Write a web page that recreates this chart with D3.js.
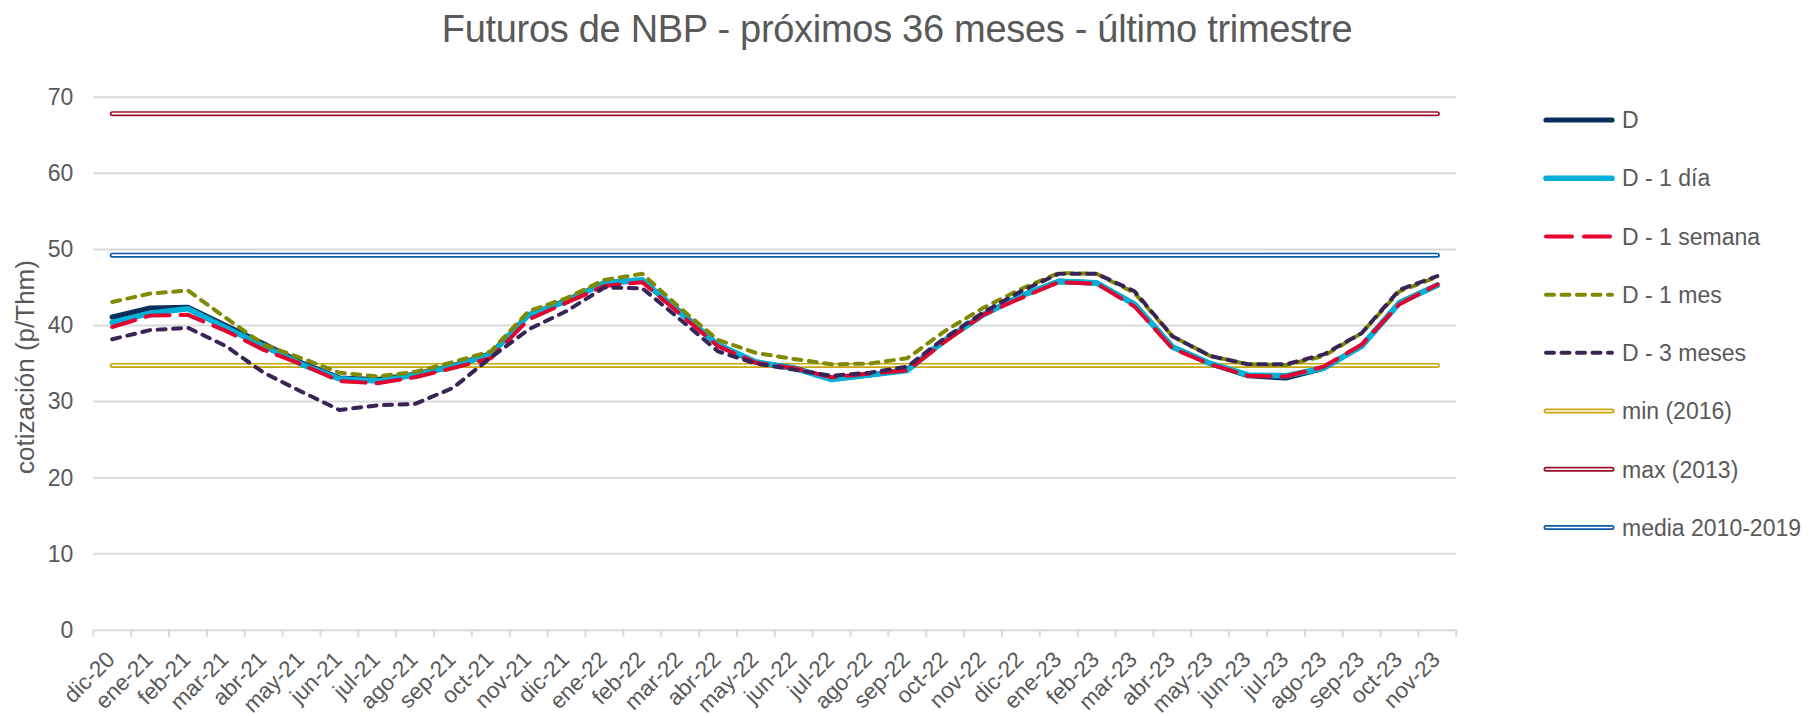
<!DOCTYPE html>
<html><head><meta charset="utf-8">
<script src="https://cdn.jsdelivr.net/npm/d3@7/dist/d3.min.js"></script>
<style>
html,body{margin:0;padding:0;background:#fff;}
svg{display:block;font-family:"Liberation Sans",Arial,sans-serif;}
</style></head>
<body>
<svg id="chart" width="1813" height="716"></svg>
<script>
const months = ["dic-20","ene-21","feb-21","mar-21","abr-21","may-21","jun-21","jul-21","ago-21","sep-21","oct-21","nov-21","dic-21","ene-22","feb-22","mar-22","abr-22","may-22","jun-22","jul-22","ago-22","sep-22","oct-22","nov-22","dic-22","ene-23","feb-23","mar-23","abr-23","may-23","jun-23","jul-23","ago-23","sep-23","oct-23","nov-23"];
const serieD = [41.1,42.3,42.4,40.0,37.6,35.1,33.1,32.9,33.6,34.7,36.3,41.4,43.3,45.6,45.9,41.8,37.4,35.2,34.4,33.0,33.5,34.2,38.1,41.4,43.9,45.8,45.6,42.8,37.2,35.0,33.4,33.1,34.4,37.3,43.0,45.3];
const serieD1dia = [40.4,41.6,42.2,39.7,37.3,34.9,33.0,32.7,33.5,34.6,36.2,41.4,43.2,45.6,46.0,41.7,37.5,35.2,34.4,32.9,33.5,34.1,38.1,41.4,43.9,45.8,45.6,42.8,37.2,35.0,33.5,33.4,34.4,37.3,43.0,45.3];
const serieD1semana = [39.8,41.3,41.4,39.3,36.8,34.9,32.7,32.4,33.2,34.4,35.7,40.8,43.0,45.2,45.7,41.5,37.3,35.1,34.4,33.2,33.7,34.1,37.9,41.4,43.6,45.7,45.5,42.5,37.0,34.9,33.4,33.3,34.6,37.5,42.8,45.4];
const serieD1mes = [43.1,44.2,44.6,41.0,37.5,35.7,33.8,33.3,33.9,35.2,36.6,41.9,43.6,46.0,46.8,42.3,38.1,36.4,35.6,34.9,35.0,35.7,39.3,42.3,44.8,46.9,46.8,44.3,38.6,36.0,34.9,34.8,36.0,39.0,44.5,46.4];
const serieD3meses = [38.2,39.4,39.7,37.3,33.8,31.3,28.9,29.5,29.7,31.8,35.8,39.5,41.9,45.0,44.9,40.8,36.6,35.0,34.2,33.4,33.8,34.6,38.4,41.7,44.5,46.8,46.8,44.5,38.6,36.0,34.9,34.9,36.2,39.0,44.7,46.5];
const minVal = 34.76, maxVal = 67.85, mediaVal = 49.25;
const yTicks = [0,10,20,30,40,50,60,70];

const title = "Futuros de NBP - próximos 36 meses - último trimestre";
const yLabel = "cotización (p/Thm)";

const seriesDefs = [
  {name:"D", values:serieD, color:"#0B2E5C", width:5.2, dash:null, cap:"round"},
  {name:"D - 1 día", values:serieD1dia, color:"#00B0D6", width:5.6, dash:null, cap:"round"},
  {name:"D - 1 semana", values:serieD1semana, color:"#E4032E", width:4, dash:"24,11", cap:"round"},
  {name:"D - 1 mes", values:serieD1mes, color:"#7F8A00", width:4, dash:"8,7.5", cap:"round"},
  {name:"D - 3 meses", values:serieD3meses, color:"#3A2356", width:4, dash:"8,7.5", cap:"round"}
];
const refDefs = [
  {name:"min (2016)", value:minVal, color:"#C9A70E"},
  {name:"max (2013)", value:maxVal, color:"#9C1028"},
  {name:"media 2010-2019", value:mediaVal, color:"#0B59A9"}
];

const svg = d3.select("#chart");
const pLeft = 93.3, pRight = 1456.3, pTop = 97.3, pBottom = 629.8;
const x = d3.scaleBand().domain(months).range([pLeft, pRight]).paddingInner(0).paddingOuter(0);
const y = d3.scaleLinear().domain([0,70]).range([pBottom, pTop]);
const cx = d => x(d) + x.bandwidth()/2;
const textColor = "#595959";

// gridlines
svg.append("g").selectAll("line").data(yTicks.filter(t=>t>0)).join("line")
  .attr("x1", pLeft).attr("x2", pRight)
  .attr("y1", d=>y(d)).attr("y2", d=>y(d))
  .attr("stroke", "#D9D9D9").attr("stroke-width", 2);

// y axis labels
const yAxis = d3.axisLeft(y).tickValues(yTicks).tickSize(0).tickPadding(20);
const gy = svg.append("g").attr("transform", `translate(${pLeft},0)`).call(yAxis);
gy.select(".domain").remove();
gy.selectAll("text").attr("fill", textColor).style("font-size","23px")
  .attr("font-family","Liberation Sans, Arial, sans-serif");

// x axis baseline + ticks at band boundaries
const xAxis = d3.axisBottom(x).tickSize(0).tickFormat("");
const gx = svg.append("g").attr("transform", `translate(0,${pBottom})`).call(xAxis);
gx.select(".domain").attr("stroke","#D9D9D9").attr("stroke-width",2);
gx.selectAll(".tick").remove();
const bounds = months.map(m=>x(m)).concat([x.range()[1]]);
gx.selectAll("line.bt").data(bounds).join("line").attr("class","bt")
  .attr("x1", d=>d).attr("x2", d=>d).attr("y1", 0).attr("y2", 7)
  .attr("stroke","#D9D9D9").attr("stroke-width",2);

// x labels rotated
svg.append("g").selectAll("text").data(months).join("text")
  .attr("transform", d=>`translate(${cx(d)+4},${pBottom+31}) rotate(-45)`)
  .attr("text-anchor","end")
  .attr("fill", textColor).style("font-size","22.5px")
  .text(d=>d);

// reference lines (double line style)
const refG = svg.append("g");
refDefs.forEach(r=>{
  const x1 = cx(months[0]), x2 = cx(months[months.length-1]);
  refG.append("line").attr("x1",x1).attr("x2",x2).attr("y1",y(r.value)).attr("y2",y(r.value))
    .attr("stroke", r.color).attr("stroke-width",5).attr("stroke-linecap","round");
  refG.append("line").attr("x1",x1).attr("x2",x2).attr("y1",y(r.value)).attr("y2",y(r.value))
    .attr("stroke", "#fff").attr("stroke-width",1.6).attr("stroke-linecap","round");
});

// series
const line = d3.line().x((d,i)=>cx(months[i])).y(d=>y(d));
seriesDefs.forEach(s=>{
  svg.append("path").datum(s.values).attr("d", line)
    .attr("fill","none").attr("stroke", s.color).attr("stroke-width", s.width)
    .attr("stroke-linejoin","round").attr("stroke-linecap", s.cap)
    .attr("stroke-dasharray", s.dash);
});

// title
svg.append("text").attr("x", 897).attr("y", 42).attr("text-anchor","middle")
  .attr("fill", textColor).style("font-size","38px").style("letter-spacing","-0.3px")
  .text(title);

// y label
svg.append("text").attr("transform", `translate(34,367) rotate(-90)`)
  .attr("text-anchor","middle").attr("fill", textColor).style("font-size","26px")
  .text(yLabel);

// legend
const legendItems = seriesDefs.map(s=>({name:s.name,color:s.color,width:s.width,dash:s.dash,type:"s"}))
  .concat(refDefs.map(r=>({name:r.name,color:r.color,type:"r"})));
const lg = svg.append("g");
const rowY = d3.scaleLinear().domain([0,7]).range([120, 527.5]);
legendItems.forEach((it,i)=>{
  const yy = rowY(i);
  if (it.type === "s") {
    let dash = it.dash;
    if (it.name === "D - 1 semana") dash = "26,12";
    lg.append("line").attr("x1",1546).attr("x2",1612).attr("y1",yy).attr("y2",yy)
      .attr("stroke",it.color).attr("stroke-width",it.width).attr("stroke-linecap","round")
      .attr("stroke-dasharray", dash);
  } else {
    lg.append("line").attr("x1",1546).attr("x2",1612).attr("y1",yy).attr("y2",yy)
      .attr("stroke",it.color).attr("stroke-width",5).attr("stroke-linecap","round");
    lg.append("line").attr("x1",1546).attr("x2",1612).attr("y1",yy).attr("y2",yy)
      .attr("stroke","#fff").attr("stroke-width",1.6).attr("stroke-linecap","round");
  }
  lg.append("text").attr("x",1622).attr("y",yy).attr("dy","0.36em")
    .attr("fill",textColor).style("font-size","23px").text(it.name);
});
</script>
</body></html>
